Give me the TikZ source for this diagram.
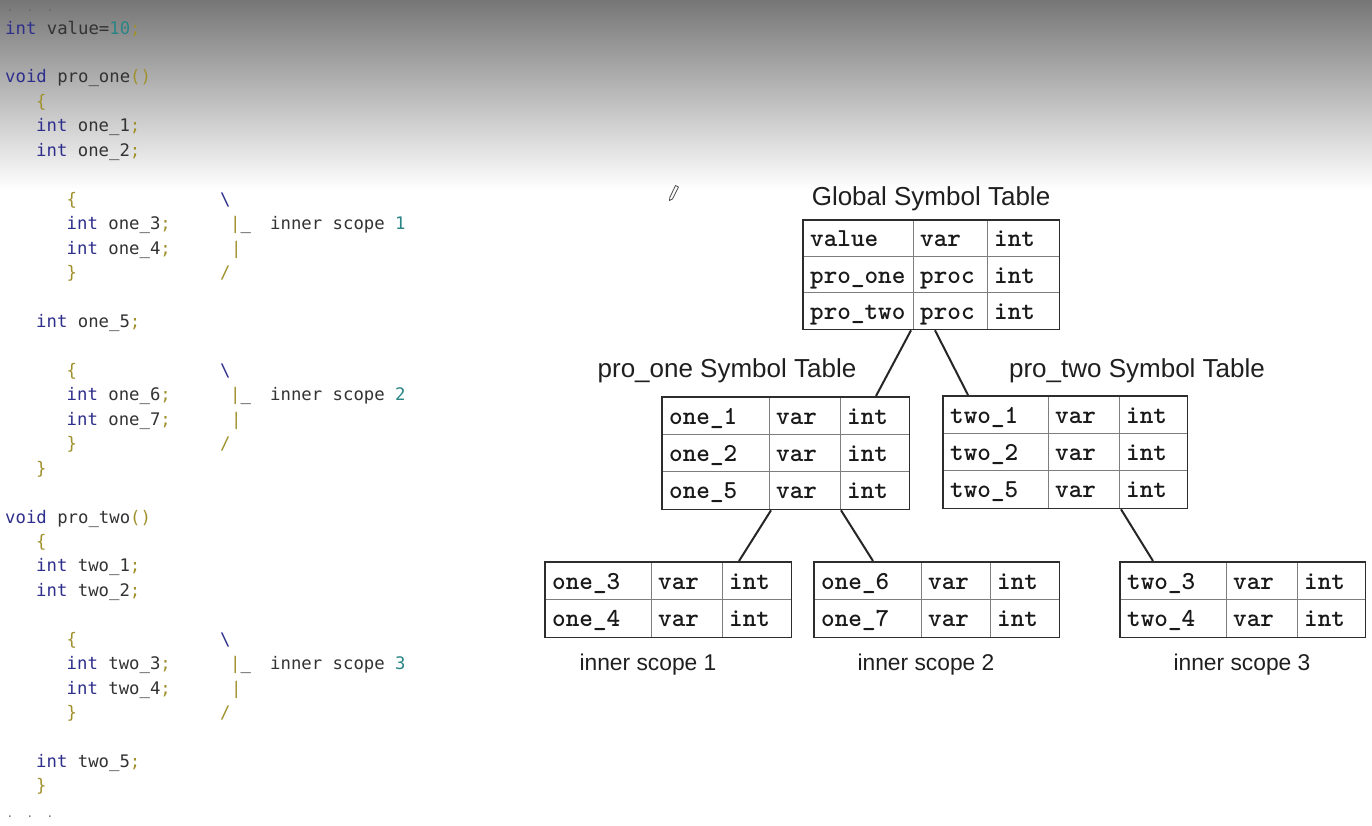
\documentclass[tikz,border=0pt]{standalone}
\usepackage{fontspec}
\usetikzlibrary{matrix,calc}
\newfontfamily\codefont{DejaVu Sans Mono}
\newfontfamily\labfont{Liberation Sans}
\definecolor{kwc}{RGB}{46,46,140}
\definecolor{idc}{RGB}{51,51,51}
\definecolor{puc}{RGB}{160,145,45}
\definecolor{nuc}{RGB}{43,133,133}
\definecolor{gridc}{RGB}{125,125,125}
\definecolor{borderc}{RGB}{45,45,45}
\definecolor{topgray}{RGB}{118,118,118}
\definecolor{midgray}{RGB}{180,180,180}
\newcommand\kw[1]{\textcolor{kwc}{#1}}
\newcommand\pu[1]{\textcolor{puc}{#1}}
\newcommand\numc[1]{\textcolor{nuc}{#1}}
\newcounter{cdn}
\newcommand\cd[3]{\stepcounter{cdn}\node[code] (cd\arabic{cdn}) at (#1,{34+24.45*(#2-1)}) {#3};}
\newcommand\gridthree[1]{%
  \draw[tgrid] (#1-1-2.north west) -- (#1-3-2.south west);
  \draw[tgrid] (#1-1-3.north west) -- (#1-3-3.south west);
  \draw[tgrid] (#1-2-1.north west) -- (#1-2-3.north east);
  \draw[tgrid] (#1-3-1.north west) -- (#1-3-3.north east);
  \draw[tborder] (#1.north west) rectangle (#1.south east);}
\newcommand\gridtwo[1]{%
  \draw[tgrid] (#1-1-2.north west) -- (#1-2-2.south west);
  \draw[tgrid] (#1-1-3.north west) -- (#1-2-3.south west);
  \draw[tgrid] (#1-2-1.north west) -- (#1-2-3.north east);
  \draw[tborder] (#1.north west) rectangle (#1.south east);}
\tikzset{
  code/.style={anchor=base west, inner sep=0pt, text=idc, font=\codefont\fontsize{17.3}{20}\selectfont},
  dotc/.style={anchor=base, inner sep=0pt, text=black!60, font=\codefont\fontsize{11}{12}\selectfont},
  tcell/.style={inner xsep=7pt, inner ysep=0pt, text height=19pt, text depth=2pt, align=left,
    font=\ttfamily\bfseries\fontsize{25.9}{28}\selectfont, text=black!90},
  tbl/.style={matrix of nodes, inner sep=0pt, column sep=0pt, row sep=0pt, anchor=north west, nodes={tcell}},
  cwa/.style={column 1/.style={nodes={text width=#1pt}}},
  cwb/.style={column 2/.style={nodes={text width=#1pt}}},
  cwc/.style={column 3/.style={nodes={text width=#1pt}}},
  tgrid/.style={draw=gridc, line width=1pt},
  tborder/.style={draw=borderc, line width=1.6pt},
  ttitle/.style={font=\labfont\fontsize{26}{30}\selectfont, text=black!88, inner sep=0pt},
  slabel/.style={font=\labfont\fontsize{22.8}{27}\selectfont, text=black!88, inner sep=0pt},
  link/.style={draw=black!85, line width=2pt},
}
\begin{document}
\begin{tikzpicture}[x=1pt,y=-1pt]
\useasboundingbox (0,0) rectangle (1372,825);
\fill[white] (0,0) rectangle (1372,825);
\shade[top color=topgray, middle color=midgray, bottom color=white] (0,0) rectangle (1372,190);

% ---------- code ----------
\node[dotc] (dt1) at (10,11) {.};
\node[dotc] (dt2) at (30,11) {.};
\node[dotc] (dt3) at (50,11) {.};
\cd{5}{1}{\kw{int} value=\numc{10}\pu{;}}
\cd{5}{3}{\kw{void} pro\_one\pu{()}}
\cd{36}{4}{\pu{\{}}
\cd{36}{5}{\kw{int} one\_1\pu{;}}
\cd{36}{6}{\kw{int} one\_2\pu{;}}
\cd{66.5}{8}{\pu{\{}}
\cd{220}{8}{\kw{\textbackslash}}
\cd{66.5}{9}{\kw{int} one\_3\pu{;}}
\cd{230}{9}{\pu{|}\_}
\cd{270}{9}{inner scope \numc{1}}
\cd{66.5}{10}{\kw{int} one\_4\pu{;}}
\cd{231}{10}{\pu{|}}
\cd{66.5}{11}{\pu{\}}}
\cd{220}{11}{\pu{/}}
\cd{36}{13}{\kw{int} one\_5\pu{;}}
\cd{66.5}{15}{\pu{\{}}
\cd{220}{15}{\kw{\textbackslash}}
\cd{66.5}{16}{\kw{int} one\_6\pu{;}}
\cd{230}{16}{\pu{|}\_}
\cd{270}{16}{inner scope \numc{2}}
\cd{66.5}{17}{\kw{int} one\_7\pu{;}}
\cd{231}{17}{\pu{|}}
\cd{66.5}{18}{\pu{\}}}
\cd{220}{18}{\pu{/}}
\cd{36}{19}{\pu{\}}}
\cd{5}{21}{\kw{void} pro\_two\pu{()}}
\cd{36}{22}{\pu{\{}}
\cd{36}{23}{\kw{int} two\_1\pu{;}}
\cd{36}{24}{\kw{int} two\_2\pu{;}}
\cd{66.5}{26}{\pu{\{}}
\cd{220}{26}{\kw{\textbackslash}}
\cd{66.5}{27}{\kw{int} two\_3\pu{;}}
\cd{230}{27}{\pu{|}\_}
\cd{270}{27}{inner scope \numc{3}}
\cd{66.5}{28}{\kw{int} two\_4\pu{;}}
\cd{231}{28}{\pu{|}}
\cd{66.5}{29}{\pu{\}}}
\cd{220}{29}{\pu{/}}
\cd{36}{31}{\kw{int} two\_5\pu{;}}
\cd{36}{32}{\pu{\}}}
\node[dotc] (db1) at (10,817) {.};
\node[dotc] (db2) at (30,817) {.};
\node[dotc] (db3) at (50,817) {.};

% ---------- pencil cursor ----------
\draw[black!70, line width=0.8pt, line join=round] (675.5,185.5) -- (678.5,187) -- (672.5,199) -- (669.5,200.5) -- (669.8,197.5) -- cycle;

% ---------- tables ----------
\node[ttitle] (gtitle) at (931,199) {Global Symbol Table};
\matrix (glob) [tbl, nodes={minimum height=36.3pt}, cwa=96, cwb=60, cwc=58] at (803,220) {
value & var & int \\
pro\_one & proc & int \\
pro\_two & proc & int \\
};
\gridthree{glob}

\node[ttitle] (p1title) at (727,371) {pro\_one Symbol Table};
\matrix (pone) [tbl, nodes={minimum height=37.3pt}, cwa=93, cwb=57, cwc=55] at (662,397) {
one\_1 & var & int \\
one\_2 & var & int \\
one\_5 & var & int \\
};
\gridthree{pone}

\node[ttitle] (p2title) at (1137,371) {pro\_two Symbol Table};
\matrix (ptwo) [tbl, nodes={minimum height=37.3pt}, cwa=91, cwb=57, cwc=54] at (943,396) {
two\_1 & var & int \\
two\_2 & var & int \\
two\_5 & var & int \\
};
\gridthree{ptwo}

\matrix (inone) [tbl, nodes={minimum height=37.5pt}, cwa=92, cwb=57, cwc=55] at (545,562) {
one\_3 & var & int \\
one\_4 & var & int \\
};
\gridtwo{inone}
\node[slabel] (s1) at (648,665) {inner scope 1};

\matrix (intwo) [tbl, nodes={minimum height=37.5pt}, cwa=93, cwb=55, cwc=55] at (814,562) {
one\_6 & var & int \\
one\_7 & var & int \\
};
\gridtwo{intwo}
\node[slabel] (s2) at (926,665) {inner scope 2};

\matrix (inthree) [tbl, nodes={minimum height=37.5pt}, cwa=92, cwb=57, cwc=54] at (1120,562) {
two\_3 & var & int \\
two\_4 & var & int \\
};
\gridtwo{inthree}
\node[slabel] (s3) at (1242,665) {inner scope 3};

% ---------- connectors ----------
\draw[link] ($(glob-3-2.south west)+(-2,1)$) -- ($(pone.north west)+(214,-1)$);
\draw[link] ($(glob-3-2.south west)+(22,1)$) -- ($(ptwo.north west)+(25,-1)$);
\draw[link] ($(pone-3-2.south west)+(2,1)$) -- ($(inone.north west)+(194,-1)$);
\draw[link] ($(pone-3-3.south west)+(1,1)$) -- ($(intwo.north west)+(59,-1)$);
\draw[link] ($(ptwo-3-3.south west)+(2,1)$) -- ($(inthree.north west)+(33,-1)$);
\end{tikzpicture}
\end{document}
